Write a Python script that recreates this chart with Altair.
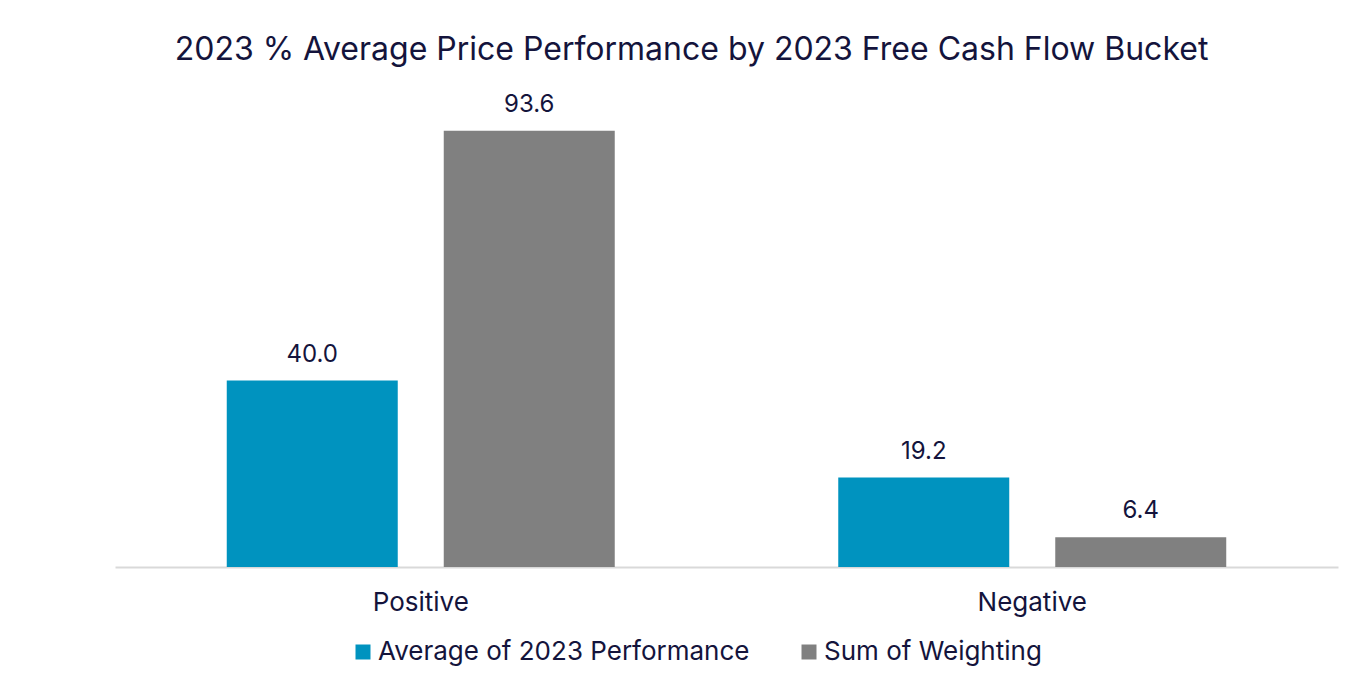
import altair as alt
import pandas as pd

buckets = ["Positive", "Negative"]
series = ["Average of 2023 Performance", "Sum of Weighting"]
avg_perf = [40.0, 19.2]
sum_weight = [93.6, 6.4]

rows = []
for i, b in enumerate(buckets):
    rows.append({"bucket": b, "series": series[0], "value": avg_perf[i], "label": f"{avg_perf[i]:.1f}"})
    rows.append({"bucket": b, "series": series[1], "value": sum_weight[i], "label": f"{sum_weight[i]:.1f}"})
df = pd.DataFrame(rows)

FONT = "Inter"
TXT = "#14143c"

x = alt.X("bucket:N", sort=buckets,
          scale=alt.Scale(paddingInner=0, paddingOuter=0),
          axis=alt.Axis(title=None, labelAngle=0, labelFontSize=26, labelColor=TXT,
                        labelFont=FONT, labelPadding=22, ticks=False, domainColor="#d9d9d9",
                        domainWidth=2, grid=False))
xo = alt.XOffset("series:N", sort=series,
                 scale=alt.Scale(paddingInner=0.212, paddingOuter=0.515))
y = alt.Y("value:Q", scale=alt.Scale(domain=[0, 100]), axis=None)

bars = alt.Chart(df).mark_bar().encode(
    x=x, xOffset=xo, y=y,
    color=alt.Color("series:N", sort=series,
                    scale=alt.Scale(domain=series, range=["#0093bf", "#808080"]),
                    legend=alt.Legend(title=None, orient="none", direction="horizontal",
                                      legendX=235, legendY=538,
                                      symbolType="square", symbolSize=225, symbolStrokeWidth=0,
                                      labelFontSize=26, labelFont=FONT, labelColor=TXT,
                                      labelLimit=0, columnPadding=46, labelOffset=2))
)
labels = alt.Chart(df).mark_text(baseline="bottom", dy=-14, fontSize=24, font=FONT, color=TXT).encode(
    x=x, xOffset=xo, y=y, text="label:N"
)

chart = alt.layer(bars, labels).properties(
    width=1223, height=466,
    autosize=alt.AutoSizeParams(type="none"),
    padding={"left": 107, "top": 93, "right": 15, "bottom": 100},
    title=alt.TitleParams("2023 % Average Price Performance by 2023 Free Cash Flow Bucket",
                          fontSize=32, font=FONT, fontWeight="normal", color=TXT,
                          anchor="middle", dx=-35, offset=26),
).configure_view(stroke=None)

chart.save("out.html", embed_options={"renderer": "svg", "actions": False})
